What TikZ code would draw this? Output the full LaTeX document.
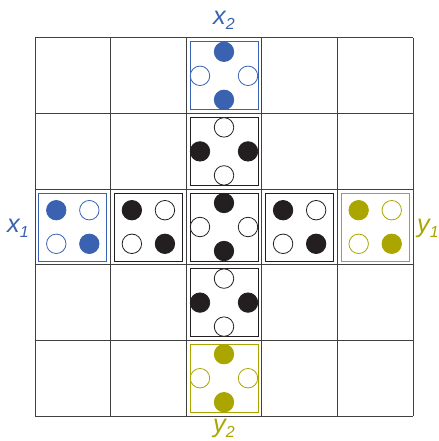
\documentclass[tikz,border=0pt]{standalone}
\usepackage{fontspec}
\setsansfont{Liberation Sans}
\usetikzlibrary{positioning}
\definecolor{bl}{HTML}{3A62B0}
\definecolor{ol}{HTML}{ABA500}
\definecolor{ink}{HTML}{231F20}
\newcommand\sub[1]{\raisebox{-.4ex}{\fontsize{12}{12}\selectfont #1}}
% box with four dots in a cross: name, position, colour, top/bottom style, left/right style
\newcommand\crosscell[5]{%
\node[box=#3] (#1) at (#2) {};
\node[#4=#3] (#1t) at ([yshift=18pt]#1.center) {};
\node[#4=#3] (#1b) at ([yshift=-18pt]#1.center) {};
\node[#5=#3] (#1l) at ([xshift=-18pt]#1.center) {};
\node[#5=#3] (#1r) at ([xshift=18pt]#1.center) {};}
% box with four dots on the diagonals: name, position, colour
\newcommand\diagcell[3]{%
\node[box=#3] (#1) at (#2) {};
\node[full=#3] (#1a) at ([shift={(-12.4pt,12.6pt)}]#1.center) {};
\node[hole=#3] (#1b) at ([shift={(12.4pt,12.6pt)}]#1.center) {};
\node[hole=#3] (#1c) at ([shift={(-12.4pt,-12.6pt)}]#1.center) {};
\node[full=#3] (#1d) at ([shift={(12.4pt,-12.6pt)}]#1.center) {};}

\begin{document}
\begin{tikzpicture}[x=0.75pt,y=-0.75pt,
g/.style={draw=black!75,line width=.75pt},
box/.style={draw=#1,line width=.7pt,minimum size=51pt,inner sep=0pt},
full/.style={circle,fill=#1,draw=#1,line width=.6pt,minimum size=14.6pt,inner sep=0pt},
hole/.style={circle,fill=white,draw=#1,line width=.6pt,minimum size=14.6pt,inner sep=0pt},
lab/.style={font=\sffamily\itshape\fontsize{19}{20}\selectfont,inner sep=0pt}]
\useasboundingbox (0,0) rectangle (438,441);
\foreach \i in {0,...,5}{
  \draw[g] (35+75.6*\i,38) -- (35+75.6*\i,416);
  \draw[g] (35,38+75.6*\i) -- (413,38+75.6*\i);}
% column of the x2 / y2 axis
\crosscell{xtwo}{224,75.8}{bl}{full}{hole}
\crosscell{up}{224,151.4}{ink}{hole}{full}
\crosscell{mid}{224,227}{ink}{full}{hole}
\crosscell{down}{224,302.6}{ink}{hole}{full}
\crosscell{ytwo}{224,378.2}{ol}{full}{hole}
% row of the x1 / y1 axis
\diagcell{xone}{72.8,227}{bl}
\diagcell{left}{148.4,227}{ink}
\diagcell{right}{299.6,227}{ink}
\diagcell{yone}{375.2,227}{ol}
% labels
\node[lab,text=bl] (lx2) at (224,20) {x\sub{2}};
\node[lab,text=bl] (lx1) at (18,228) {x\sub{1}};
\node[lab,text=ol] (ly1) at (428,228) {y\sub{1}};
\node[lab,text=ol] (ly2) at (224,428) {y\sub{2}};
\end{tikzpicture}
\end{document}
